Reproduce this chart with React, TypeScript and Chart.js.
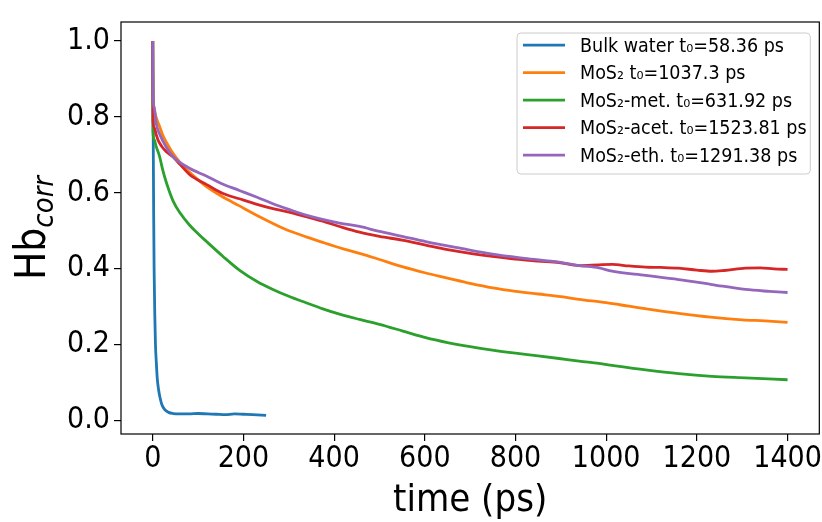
import React, { useEffect, useRef } from 'react';
import { Chart, registerables } from 'chart.js';
Chart.register(...registerables);

const seriesLabels = [
  'Bulk water t₀=58.36 ps',
  'MoS₂ t₀=1037.3 ps',
  'MoS₂-met. t₀=631.92 ps',
  'MoS₂-acet. t₀=1523.81 ps',
  'MoS₂-eth. t₀=1291.38 ps',
];
const seriesColors = ['#1f77b4', '#ff7f0e', '#2ca02c', '#d62728', '#9467bd'];

const bulkTime = [0, 1, 2, 3, 4.5, 6, 8, 10, 13, 16, 20, 26, 35, 45, 60, 80, 100, 120, 140, 160, 180, 200, 220, 250];
const bulkHb = [1.0, 0.76, 0.55, 0.4, 0.28, 0.2, 0.15, 0.11, 0.08, 0.06, 0.042, 0.029, 0.021, 0.018, 0.017, 0.017, 0.018, 0.017, 0.016, 0.015, 0.017, 0.016, 0.015, 0.013];

const mosTime = [0, 0.5, 2, 5, 10, 15, 22, 30, 45, 60, 80, 100, 120, 150, 190, 240, 290, 340, 375, 420, 460, 500, 550, 600, 650, 700, 750, 800, 850, 900, 940, 1000, 1050, 1100, 1160, 1230, 1300, 1350, 1400];
const mosHb = [1.0, 0.86, 0.83, 0.81, 0.79, 0.775, 0.752, 0.733, 0.703, 0.68, 0.655, 0.634, 0.615, 0.592, 0.566, 0.534, 0.505, 0.483, 0.469, 0.452, 0.439, 0.424, 0.405, 0.389, 0.375, 0.361, 0.349, 0.34, 0.333, 0.326, 0.319, 0.31, 0.301, 0.292, 0.282, 0.272, 0.265, 0.262, 0.258];

const metTime = [0, 0.5, 3, 8, 15, 22, 30, 45, 60, 81, 100, 118, 155, 191, 230, 265, 300, 338, 375, 412, 456, 500, 550, 602, 650, 700, 749, 800, 850, 896, 940, 984, 1013, 1087, 1160, 1233, 1307, 1400];
const metHb = [1.0, 0.76, 0.74, 0.72, 0.696, 0.66, 0.627, 0.578, 0.547, 0.515, 0.492, 0.472, 0.432, 0.396, 0.366, 0.345, 0.327, 0.31, 0.294, 0.28, 0.266, 0.253, 0.236, 0.218, 0.205, 0.194, 0.185, 0.177, 0.17, 0.163, 0.156, 0.15, 0.145, 0.133, 0.123, 0.116, 0.112, 0.107];

const acetTime = [0, 0.5, 3, 8, 12, 20, 30, 45, 60, 81, 96, 118, 155, 191, 228, 265, 300, 338, 375, 412, 456, 500, 550, 602, 650, 700, 749, 800, 850, 896, 940, 984, 1013, 1050, 1087, 1120, 1160, 1200, 1233, 1260, 1307, 1340, 1370, 1400];
const acetHb = [1.0, 0.79, 0.772, 0.752, 0.738, 0.722, 0.708, 0.694, 0.675, 0.648, 0.636, 0.622, 0.598, 0.584, 0.57, 0.558, 0.549, 0.537, 0.525, 0.511, 0.496, 0.485, 0.475, 0.462, 0.45, 0.44, 0.432, 0.425, 0.42, 0.416, 0.408, 0.41, 0.411, 0.407, 0.404, 0.403, 0.401, 0.396, 0.393, 0.395, 0.401, 0.402, 0.399, 0.398];

const ethTime = [0, 0.5, 3, 8, 15, 30, 45, 80, 118, 150, 191, 230, 265, 300, 338, 412, 456, 500, 550, 602, 680, 749, 820, 896, 940, 984, 1013, 1087, 1160, 1233, 1307, 1360, 1400];
const ethHb = [1.0, 0.86, 0.825, 0.78, 0.755, 0.72, 0.695, 0.665, 0.644, 0.625, 0.606, 0.588, 0.571, 0.556, 0.541, 0.52, 0.511, 0.498, 0.485, 0.471, 0.453, 0.438, 0.427, 0.417, 0.408, 0.402, 0.393, 0.382, 0.371, 0.358, 0.345, 0.34, 0.337];

const xTicks = [0, 200, 400, 600, 800, 1000, 1200, 1400];
const yTicks = [0.0, 0.2, 0.4, 0.6, 0.8, 1.0];
const xTitle = 'time (ps)';
const yTitleMain = 'Hb';
const yTitleSub = 'corr';

const allTimes = [bulkTime, mosTime, metTime, acetTime, ethTime];
const allValues = [bulkHb, mosHb, metHb, acetHb, ethHb];

const FONT = '"DejaVu Sans Condensed", "DejaVu Sans", sans-serif';

const decorPlugin = {
  id: 'decor',
  afterDraw(chart: any) {
    const { ctx, chartArea: a } = chart;
    ctx.save();
    // frame
    ctx.strokeStyle = '#000';
    ctx.lineWidth = 1.2;
    ctx.strokeRect(a.left, a.top, a.right - a.left, a.bottom - a.top);

    // legend
    ctx.font = `19.5px ${FONT}`;
    const boxRight = a.right - 9;
    const boxTop = a.top + 11;
    const boxLeft = a.left + 396;
    const boxH = 141;
    const r = 4;
    ctx.beginPath();
    ctx.moveTo(boxLeft + r, boxTop);
    ctx.arcTo(boxRight, boxTop, boxRight, boxTop + boxH, r);
    ctx.arcTo(boxRight, boxTop + boxH, boxLeft, boxTop + boxH, r);
    ctx.arcTo(boxLeft, boxTop + boxH, boxLeft, boxTop, r);
    ctx.arcTo(boxLeft, boxTop, boxRight, boxTop, r);
    ctx.closePath();
    ctx.fillStyle = 'rgba(255,255,255,0.8)';
    ctx.fill();
    ctx.strokeStyle = '#cccccc';
    ctx.lineWidth = 1;
    ctx.stroke();
    ctx.textAlign = 'left';
    ctx.textBaseline = 'alphabetic';
    seriesLabels.forEach((l, i) => {
      const base = boxTop + 18.7 + i * 27.5;
      const cy = base - 6.5;
      ctx.strokeStyle = seriesColors[i];
      ctx.lineWidth = 2.8;
      ctx.beginPath();
      ctx.moveTo(boxLeft + 6, cy);
      ctx.lineTo(boxLeft + 48, cy);
      ctx.stroke();
      ctx.fillStyle = '#000';
      ctx.fillText(l, boxLeft + 63, base);
    });

    // x title
    ctx.fillStyle = '#000';
    ctx.font = `38px ${FONT}`;
    ctx.textAlign = 'center';
    ctx.textBaseline = 'alphabetic';
    ctx.fillText(xTitle, (a.left + a.right) / 2, a.bottom + 77);

    // y title with subscript
    ctx.font = `42px ${FONT}`;
    const wMain = ctx.measureText(yTitleMain).width;
    ctx.font = `italic 29px ${FONT}`;
    const wSub = ctx.measureText(yTitleSub).width;
    const total = wMain + wSub;
    const cy = (a.top + a.bottom) / 2;
    ctx.translate(45, cy + total / 2);
    ctx.rotate(-Math.PI / 2);
    ctx.textAlign = 'left';
    ctx.font = `42px ${FONT}`;
    ctx.fillText(yTitleMain, 0, 0);
    ctx.font = `italic 29px ${FONT}`;
    ctx.fillText(yTitleSub, wMain, 8);
    ctx.restore();
  },
};

export default function App() {
  const ref = useRef<HTMLCanvasElement>(null);
  useEffect(() => {
    if (!ref.current) return;
    const datasets = allTimes.map((ts, i) => ({
      label: seriesLabels[i],
      data: ts.map((t, j) => ({ x: t, y: allValues[i][j] })),
      borderColor: seriesColors[i],
      backgroundColor: seriesColors[i],
      borderWidth: 2.8,
      pointRadius: 0,
      cubicInterpolationMode: 'monotone' as const,
      fill: false,
      order: 5 - i,
    }));
    const chart = new Chart(ref.current, {
      type: 'line',
      data: { datasets },
      options: {
        animation: false,
        responsive: false,
        devicePixelRatio: 1,
        layout: { padding: { left: 0, right: 2, top: 12, bottom: 0 } },
        plugins: { legend: { display: false }, tooltip: { enabled: false } },
        scales: {
          x: {
            type: 'linear',
            min: -70,
            max: 1470,
            afterBuildTicks: (s: any) => {
              s.ticks = xTicks.map((v) => ({ value: v }));
            },
            afterFit: (s: any) => {
              s.height = 88;
            },
            ticks: {
              color: '#000',
              font: { family: FONT, size: 30 },
              padding: 0,
              maxRotation: 0,
              autoSkip: false,
              callback: (v: any) => String(v),
            },
            grid: { drawOnChartArea: false, drawTicks: true, tickLength: 7, color: '#000', lineWidth: 1.2 },
            border: { display: false },
          },
          y: {
            type: 'linear',
            min: -0.036,
            max: 1.05,
            afterBuildTicks: (s: any) => {
              s.ticks = yTicks.map((v) => ({ value: v }));
            },
            afterFit: (s: any) => {
              s.width = 121;
            },
            ticks: {
              color: '#000',
              font: { family: FONT, size: 30 },
              padding: 4,
              autoSkip: false,
              callback: (v: any) => Number(v).toFixed(1),
            },
            grid: { drawOnChartArea: false, drawTicks: true, tickLength: 7, color: '#000', lineWidth: 1.2 },
            border: { display: false },
          },
        },
      },
      plugins: [decorPlugin],
    });
    return () => chart.destroy();
  }, []);
  return (
    <div style={{ position: 'fixed', left: 0, top: 0, width: 822, height: 522, background: '#fff' }}>
      <canvas ref={ref} width={822} height={522} style={{ display: 'block' }} />
    </div>
  );
}
